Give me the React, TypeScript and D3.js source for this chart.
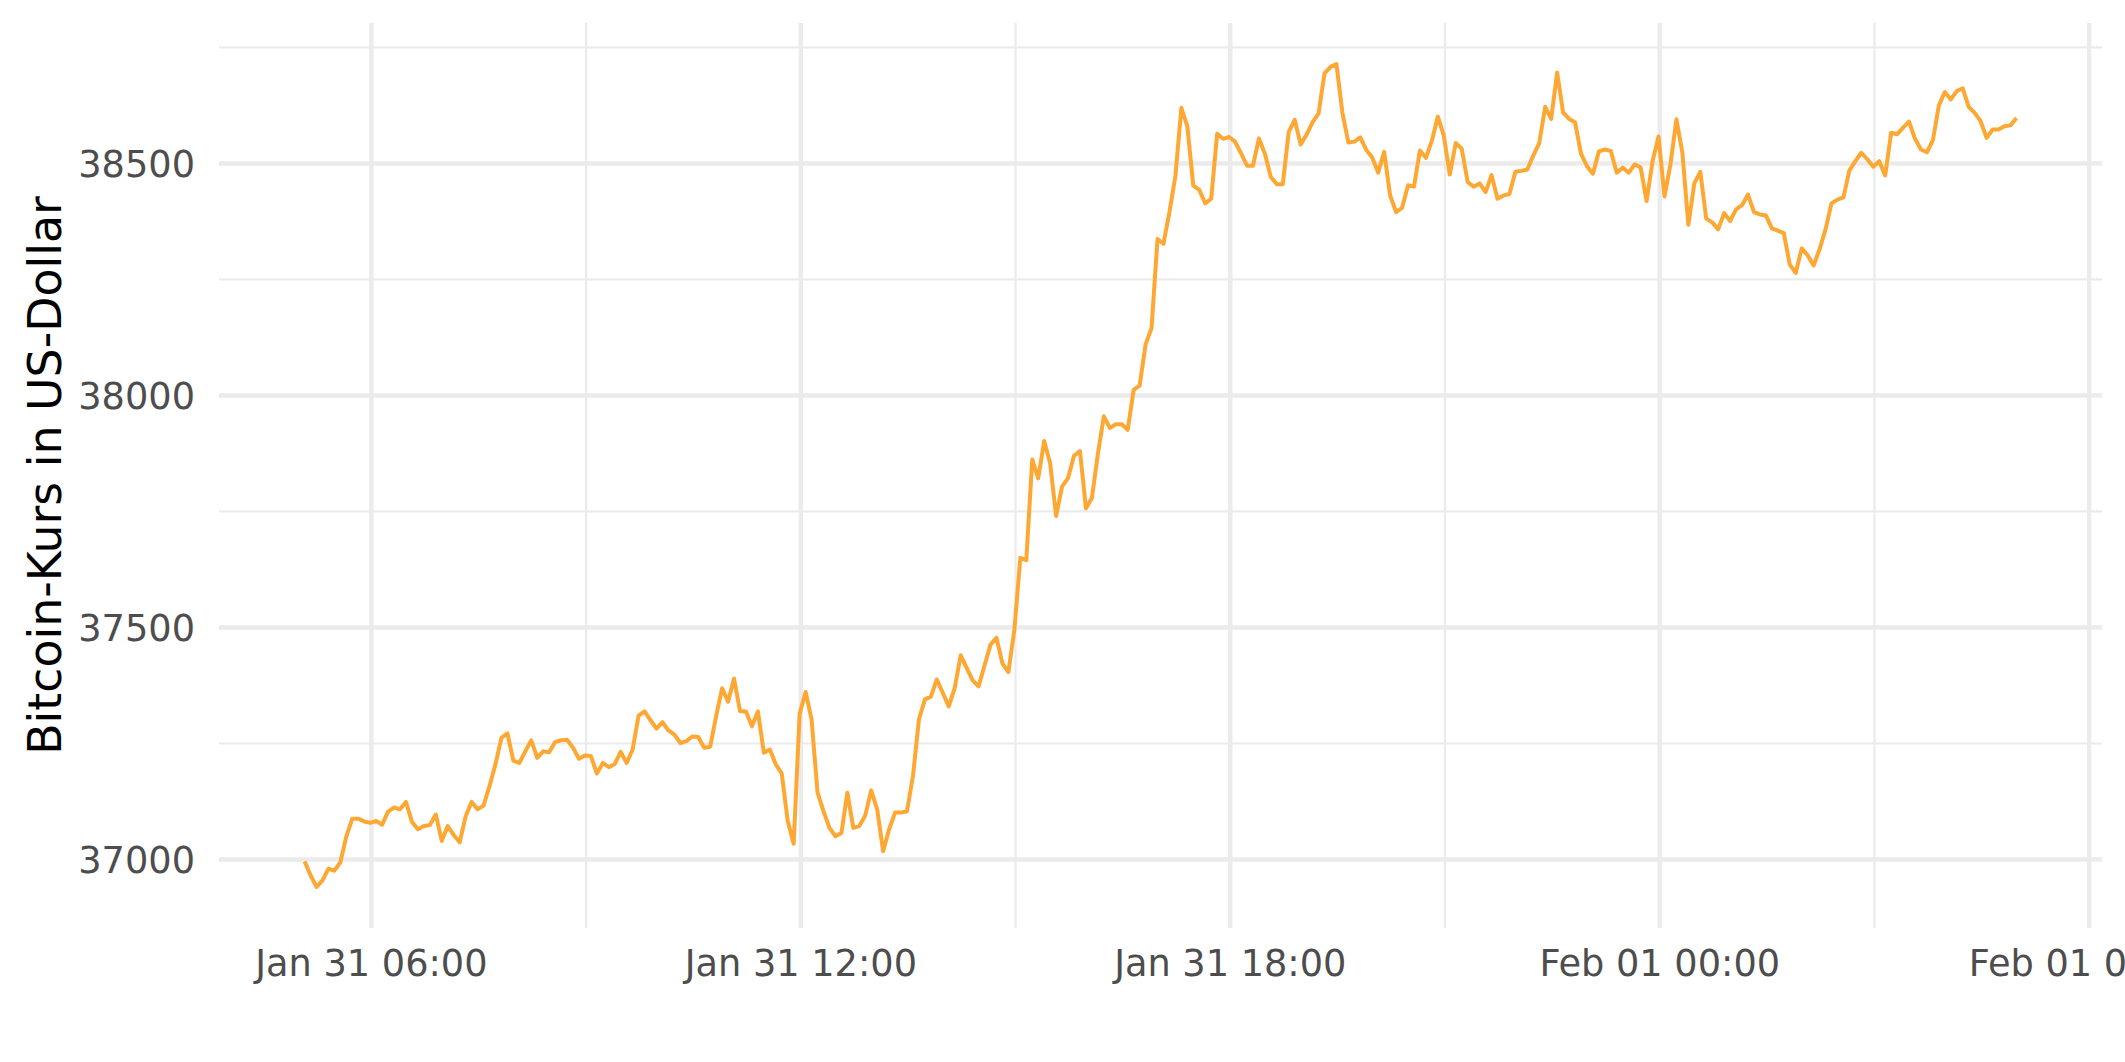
import React from "react";
import * as d3 from "d3";

// ---- data -------------------------------------------------------------
const START_UTC = Date.UTC(2022, 0, 31, 5, 4); // first observation
const STEP_MINUTES = 5;

const prices: number[] = [
  36996, 36966, 36941, 36955, 36980, 36976, 36994, 37050, 37088, 37088,
  37082, 37079, 37083, 37075, 37103, 37112, 37108, 37124, 37081, 37065,
  37072, 37074, 37097, 37040, 37072, 37053, 37037, 37093, 37124, 37108,
  37116, 37158, 37205, 37262, 37272, 37213, 37208, 37233, 37257, 37219,
  37233, 37231, 37253, 37257, 37258, 37241, 37217, 37224, 37223, 37185,
  37208, 37199, 37206, 37232, 37208, 37237, 37310, 37319, 37300, 37282,
  37296, 37278, 37269, 37251, 37255, 37265, 37264, 37241, 37243, 37309,
  37369, 37340, 37390, 37320, 37319, 37287, 37319, 37230, 37237, 37205,
  37185, 37083, 37034, 37314, 37361, 37302, 37144, 37104, 37068, 37050,
  37057, 37144, 37068, 37072, 37095, 37149, 37108, 37018, 37065, 37101,
  37101, 37104, 37180, 37302, 37345, 37351, 37388, 37359, 37330, 37370,
  37440, 37413, 37386, 37373, 37418, 37463, 37478, 37422, 37404, 37495,
  37650, 37645, 37862, 37821, 37902, 37854, 37740, 37804, 37822, 37870,
  37880, 37757, 37779, 37874, 37955, 37930, 37938, 37938, 37926, 38012,
  38021, 38110, 38145, 38337, 38327, 38395, 38473, 38620, 38580, 38452,
  38443, 38414, 38424, 38564, 38553, 38557, 38547, 38522, 38495, 38495,
  38554, 38521, 38471, 38455, 38455, 38568, 38594, 38541, 38562, 38589,
  38608, 38694, 38708, 38714, 38609, 38545, 38547, 38556, 38529, 38513,
  38480, 38525, 38431, 38395, 38404, 38453, 38450, 38528, 38512, 38549,
  38601, 38560, 38476, 38544, 38532, 38460, 38450, 38457, 38438, 38475,
  38424, 38431, 38434, 38482, 38484, 38487, 38517, 38544, 38622, 38596,
  38696, 38610, 38596, 38589, 38521, 38494, 38478, 38526, 38530, 38527,
  38480, 38491, 38480, 38498, 38491, 38419, 38505, 38558, 38429, 38498,
  38595, 38523, 38368, 38457, 38482, 38381, 38373, 38358, 38393, 38376,
  38401, 38410, 38433, 38395, 38390, 38388, 38360, 38355, 38350, 38282,
  38264, 38317, 38302, 38280, 38315, 38358, 38414, 38422, 38427, 38485,
  38505, 38523, 38509, 38493, 38505, 38474, 38566, 38563, 38577, 38590,
  38553, 38530, 38524, 38550, 38625, 38654, 38638, 38656, 38662, 38622,
  38609, 38591, 38555, 38573, 38573, 38580, 38582, 38598,
];

const yMajorTicks: number[] = [37000, 37500, 38000, 38500];
const yMinorTicks: number[] = [37250, 37750, 38250, 38750];
const xMajorTicks: Date[] = [
  new Date(Date.UTC(2022, 0, 31, 6)),
  new Date(Date.UTC(2022, 0, 31, 12)),
  new Date(Date.UTC(2022, 0, 31, 18)),
  new Date(Date.UTC(2022, 1, 1, 0)),
  new Date(Date.UTC(2022, 1, 1, 6)),
];
const xMinorTicks: Date[] = [
  new Date(Date.UTC(2022, 0, 31, 9)),
  new Date(Date.UTC(2022, 0, 31, 15)),
  new Date(Date.UTC(2022, 0, 31, 21)),
  new Date(Date.UTC(2022, 1, 1, 3)),
];
const yTitle = "Bitcoin-Kurs in US-Dollar";

// ---- layout -----------------------------------------------------------
const W = 2125;
const H = 1062;
const PANEL = { left: 219, right: 2102, top: 23, bottom: 928 };
const LINE_COLOR = "#FFA733";
const GRID = "#EBEBEB";
const FONT = "'DejaVu Sans', sans-serif";

type Pt = { t: Date; v: number };
const data: Pt[] = prices.map((v, i) => ({
  t: new Date(START_UTC + i * STEP_MINUTES * 60000),
  v,
}));

function expand(lo: number, hi: number, f = 0.05): [number, number] {
  const d = (hi - lo) * f;
  return [lo - d, hi + d];
}

export default function App() {
  const tExt = d3.extent(data, (d) => +d.t) as [number, number];
  const vExt = d3.extent(data, (d) => d.v) as [number, number];
  const [t0, t1] = expand(tExt[0], tExt[1]);
  const x = d3
    .scaleUtc()
    .domain([new Date(t0), new Date(t1)])
    .range([PANEL.left, PANEL.right]);
  const y = d3
    .scaleLinear()
    .domain(expand(vExt[0], vExt[1]))
    .range([PANEL.bottom, PANEL.top]);

  const line = d3
    .line<Pt>()
    .x((d) => x(d.t))
    .y((d) => y(d.v));

  const fmt = d3.utcFormat("%b %d %H:%M");

  return (
    <div style={{ position: "absolute", left: 0, top: 0 }}>
      <svg width={W} height={H} style={{ display: "block", background: "#fff" }}>
        <rect x={0} y={0} width={W} height={H} fill="#fff" />
        {/* minor grid */}
        {yMinorTicks.map((v) => (
          <line key={"ym" + v} x1={PANEL.left} x2={PANEL.right} y1={y(v)} y2={y(v)}
            stroke={GRID} strokeWidth={2.2} />
        ))}
        {xMinorTicks.map((t) => (
          <line key={"xm" + +t} x1={x(t)} x2={x(t)} y1={PANEL.top} y2={PANEL.bottom}
            stroke={GRID} strokeWidth={2.2} />
        ))}
        {/* major grid */}
        {yMajorTicks.map((v) => (
          <line key={"yM" + v} x1={PANEL.left} x2={PANEL.right} y1={y(v)} y2={y(v)}
            stroke={GRID} strokeWidth={4.4} />
        ))}
        {xMajorTicks.map((t) => (
          <line key={"xM" + +t} x1={x(t)} x2={x(t)} y1={PANEL.top} y2={PANEL.bottom}
            stroke={GRID} strokeWidth={4.4} />
        ))}
        {/* series */}
        <path d={line(data) || ""} fill="none" stroke={LINE_COLOR} strokeWidth={4}
          strokeLinejoin="round" />
        {/* y tick labels */}
        {yMajorTicks.map((v) => (
          <text key={"yl" + v} x={195} y={y(v) + 13.4} textAnchor="end"
            fontFamily={FONT} fontSize={36.7} fill="#4D4D4D">
            {v}
          </text>
        ))}
        {/* x tick labels */}
        {xMajorTicks.map((t) => (
          <text key={"xl" + +t} x={x(t)} y={976} textAnchor="middle"
            fontFamily={FONT} fontSize={36.7} fill="#4D4D4D">
            {fmt(t)}
          </text>
        ))}
        {/* y title */}
        <text transform={`translate(61, ${(PANEL.top + PANEL.bottom) / 2}) rotate(-90)`}
          textAnchor="middle" fontFamily={FONT} fontSize={45.8} fill="#000">
          {yTitle}
        </text>
      </svg>
    </div>
  );
}
